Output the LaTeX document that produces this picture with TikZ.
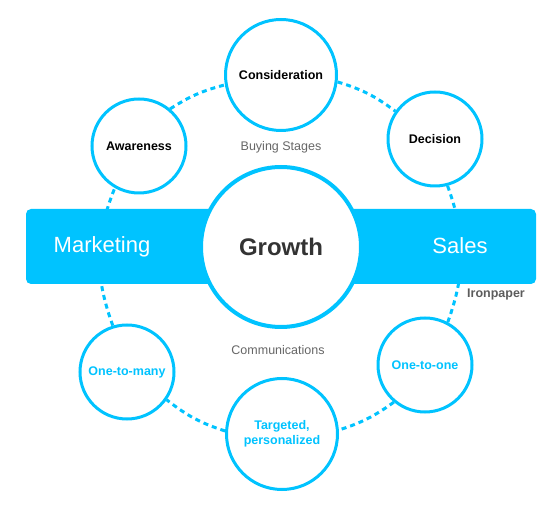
\documentclass[tikz,border=0pt]{standalone}
\usepackage{fontspec}
\setmainfont{Liberation Sans}
\usetikzlibrary{backgrounds}
\definecolor{ipblue}{HTML}{00C3FF}
\definecolor{ipgray}{HTML}{666666}
\definecolor{ipdark}{HTML}{333333}

\begin{document}
\begin{tikzpicture}[x=1pt, y=1pt,
    stage/.style={circle, draw=ipblue, line width=3pt, fill=white, inner sep=0pt,
        align=center, font=\fontsize{12.5}{15.5}\selectfont\bfseries},
    small/.style={stage, minimum size=94pt},
    large/.style={stage, minimum size=111pt},
    caption/.style={text=ipgray, font=\fontsize{12.5}{15}\selectfont},
    band/.style={text=white, font=\fontsize{22}{26}\selectfont},
    link/.style={draw=ipblue, line width=3pt, dash pattern=on 5pt off 4pt}]
    \useasboundingbox (0,0) rectangle (559,511);

    % Buying stages (top half)
    \node[small] (aware) at (139,365) {Awareness};
    \node[large] (consid) at (281,436) {Consideration};
    \node[small] (decide) at (435,372) {Decision};

    % Communications (bottom half)
    \node[small, text=ipblue] (many) at (127,139) {One-to-many};
    \node[large, text=ipblue] (target) at (282,77) {Targeted,\\personalized};
    \node[small, text=ipblue] (one) at (425,146) {One-to-one};

    % Centre
    \node[stage, line width=4pt, minimum size=160pt, text=ipdark,
        font=\fontsize{24}{28}\selectfont\bfseries] (growth) at (281,264) {Growth};

    % Labels
    \node[caption] (buying) at (281,364) {Buying Stages};
    \node[caption] (comms) at (278,161) {Communications};
    \node[text=ipgray!90!black, font=\fontsize{12.5}{15}\selectfont\bfseries] (brand) at (496,217) {Ironpaper};

    \begin{scope}[on background layer]
        % Dotted ring
        \foreach \a/\b/\t in {aware.50/consid.190/9, consid.-7/decide.145/10,
                decide.-75/one.62/20, one.230/target.4/9,
                target.177/many.-35/10, many.107/aware.240/21}
            \draw[link] (\a) to[bend left=\t] (\b);
        % Band
        \fill[ipblue, rounded corners=5pt] (26,227) rectangle (536,302);
    \end{scope}
    \node[band] (mkt) at (102,264) {Marketing};
    \node[band] (sales) at (460,265) {Sales};
\end{tikzpicture}
\end{document}
